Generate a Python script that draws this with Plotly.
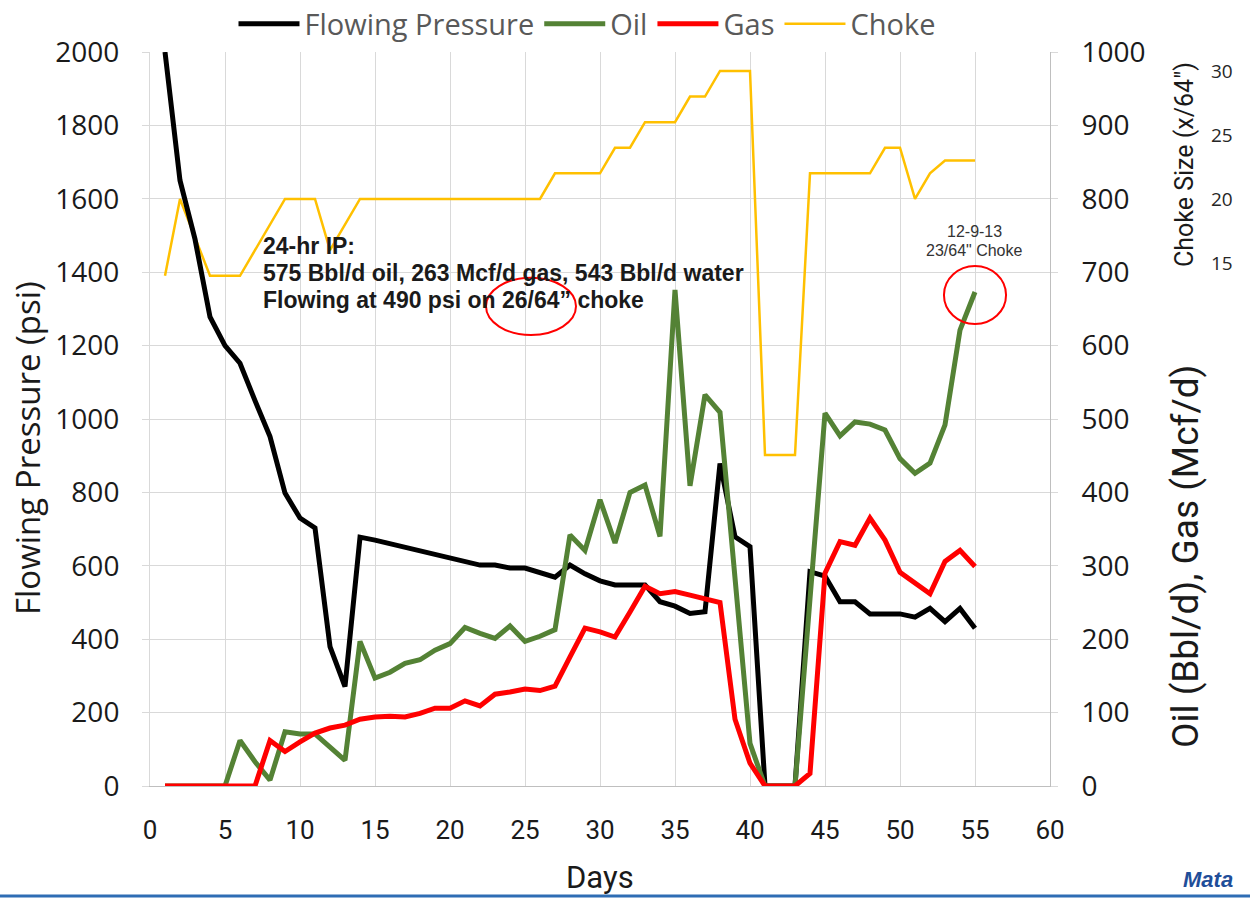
import plotly.graph_objects as go

# ---- data -------------------------------------------------------------
days = list(range(1, 56))

pressure_psi = [2000, 1650, 1490, 1278, 1200, 1152, 1050, 952, 798, 730,
                703, 380, 271, 678, 670, 660, 650, 640, 630, 620,
                610, 602, 602, 594, 594, 581, 569, 602, 578, 559,
                548, 548, 548, 502, 490, 470, 475, 879, 679, 652,
                0, 0, 0, 584, 572, 502, 502, 469, 469, 469,
                460, 484, 448, 484, 430]

oil_bbl_d = [0, 0, 0, 0, 0, 62, 33, 8, 74, 71,
             71, 53, 35, 197, 147, 155, 167, 172, 185, 194,
             216, 208, 201, 218, 197, 204, 213, 342, 321, 390,
             331, 400, 410, 340, 676, 409, 533, 509, 290, 58,
             0, 0, 0, 255, 508, 477, 496, 493, 485, 446,
             426, 440, 492, 621, 673]

gas_mcf_d = [0, 0, 0, 0, 0, 0, 0, 62, 47, 60,
             72, 79, 83, 91, 94, 95, 94, 99, 106, 106,
             116, 109, 125, 128, 132, 130, 136, 176, 215, 210,
             203, 237, 272, 262, 265, 260, 255, 250, 91, 31,
             0, 0, 0, 17, 290, 333, 328, 365, 335, 291,
             276, 262, 306, 321, 299]

choke_64ths = [14, 20, 17, 14, 14, 14, 16, 18, 20, 20,
               20, 16, 18, 20, 20, 20, 20, 20, 20, 20,
               20, 20, 20, 20, 20, 20, 22, 22, 22, 22,
               24, 24, 26, 26, 26, 28, 28, 30, 30, 30,
               0, 0, 0, 22, 22, 22, 22, 22, 24, 24,
               20, 22, 23, 23, 23]

x_ticks = [0, 5, 10, 15, 20, 25, 30, 35, 40, 45, 50, 55, 60]
pressure_ticks = [0, 200, 400, 600, 800, 1000, 1200, 1400, 1600, 1800, 2000]
rate_ticks = [0, 100, 200, 300, 400, 500, 600, 700, 800, 900, 1000]
choke_ticks = [15, 20, 25, 30]

ip_lines = ["24-hr IP:",
            "575 Bbl/d oil, 263 Mcf/d gas, 543 Bbl/d water",
            "Flowing at 490 psi on 26/64\u201d choke"]
end_note = ["12-9-13", "23/64\" Choke"]

# ---- styling ----------------------------------------------------------
GRID = "#d9d9d9"
TICKFONT = "Open Sans, Lato, sans-serif"
NARROW = "Roboto, Lato, sans-serif"
BOLD = "Liberation Sans, Arial, sans-serif"

W, H = 1250, 898
ML, MR, MT, MB = 150, 20, 52, 112
PLOT_RIGHT = 1050
paper_w = W - ML - MR
paper_h = H - MT - MB
x_dom_end = (PLOT_RIGHT - ML) / paper_w


def px_x(px):
    return (px - ML) / paper_w


def px_y(py):
    return (H - MB - py) / paper_h


fig = go.Figure()

# Choke on the base axis so it sits underneath the other lines
fig.add_trace(go.Scatter(x=days, y=choke_64ths, name="Choke", mode="lines",
                         line=dict(color="#ffc000", width=2.5), legendrank=4,
                         xaxis="x", yaxis="y"))
fig.add_trace(go.Scatter(x=days, y=pressure_psi, name="Flowing Pressure",
                         mode="lines", line=dict(color="#000000", width=5),
                         legendrank=1, xaxis="x", yaxis="y2"))
fig.add_trace(go.Scatter(x=days, y=oil_bbl_d, name="Oil", mode="lines",
                         line=dict(color="#548235", width=5), legendrank=2,
                         xaxis="x", yaxis="y3"))
fig.add_trace(go.Scatter(x=days, y=gas_mcf_d, name="Gas", mode="lines",
                         line=dict(color="#ff0000", width=5), legendrank=3,
                         xaxis="x", yaxis="y3"))


def label(text, x, y, size, family, color="#1a1a1a", angle=0, xanchor="center"):
    return dict(x=px_x(x), y=px_y(y), xref="paper", yref="paper", text=text,
                textangle=angle, showarrow=False, xanchor=xanchor,
                yanchor="middle", font=dict(family=family, size=size, color=color))


annotations = []
# IP summary block, one line per annotation for tight line spacing
for txt, py in zip(ip_lines, [246, 273, 300]):
    annotations.append(label("<b>%s</b>" % txt, 261, py, 23, BOLD, xanchor="left"))
for txt, py in zip(end_note, [231, 250]):
    annotations.append(label(txt, 974, py, 16, BOLD, color="#333333"))

# axis titles
annotations.append(label("Flowing Pressure (psi)", 27, 448, 33, TICKFONT, angle=-90))
annotations.append(label("Oil (Bbl/d), Gas (Mcf/d)", 1185, 557, 37, NARROW, angle=-90))
annotations.append(label("Choke Size (x/64\")", 1184, 165, 25, NARROW, angle=-90))
annotations.append(label("Days", 600, 877, 31, NARROW))

# company mark at the lower right corner
annotations.append(label("<b><i>Mata</i></b>", 1208, 879, 22, BOLD, color="#1f4e99"))

shapes = [
    dict(type="circle", xref="x", yref="y2", x0=22.4, x1=28.4, y0=1229, y1=1385,
         line=dict(color="#ff0000", width=2)),
    dict(type="circle", xref="x", yref="y2", x0=52.93, x1=57.07, y0=1259, y1=1417,
         line=dict(color="#ff0000", width=2)),
    dict(type="line", xref="paper", yref="paper", x0=px_x(0), x1=px_x(W),
         y0=px_y(896), y1=px_y(896), line=dict(color="#2e6db4", width=3)),
]

fig.update_layout(
    width=W, height=H,
    margin=dict(l=ML, r=MR, t=MT, b=MB, autoexpand=False),
    paper_bgcolor="white", plot_bgcolor="white",
    showlegend=True,
    legend=dict(orientation="h", x=px_x(587), xanchor="center",
                y=px_y(24), yanchor="middle",
                font=dict(family=TICKFONT, size=29, color="#595959"),
                traceorder="normal", itemwidth=61),
    xaxis=dict(domain=[0, x_dom_end], range=[0, 60], tickvals=x_ticks,
               showgrid=True, gridcolor=GRID, gridwidth=1,
               showline=True, linecolor="#bfbfbf", linewidth=1,
               zeroline=False, ticks="", ticklabelstandoff=21, automargin=False,
               tickfont=dict(family=NARROW, size=26, color="#1a1a1a")),
    yaxis=dict(range=[-25.86, 31.48], tickvals=choke_ticks, side="right",
               anchor="free", position=px_x(1210), showgrid=False,
               zeroline=False, showline=False, ticks="", automargin=False,
               tickfont=dict(family=TICKFONT, size=19, color="#262626")),
    yaxis2=dict(overlaying="y", side="left", anchor="x", range=[0, 2000],
                tickvals=pressure_ticks, showgrid=True, gridcolor=GRID,
                gridwidth=1, zeroline=False, showline=True, linecolor=GRID,
                ticks="outside", ticklen=7, tickcolor=GRID,
                ticklabelstandoff=17, automargin=False,
                tickfont=dict(family=TICKFONT, size=28, color="#1a1a1a")),
    yaxis3=dict(overlaying="y", side="right", anchor="x", range=[0, 1000],
                tickvals=rate_ticks, showgrid=False, zeroline=False,
                showline=True, linecolor="#bfbfbf", ticks="outside",
                ticklen=7, tickcolor=GRID, ticklabelstandoff=18, automargin=False,
                tickfont=dict(family=TICKFONT, size=28, color="#1a1a1a")),
    annotations=annotations,
    shapes=shapes,
)

fig.write_html("out.html")
